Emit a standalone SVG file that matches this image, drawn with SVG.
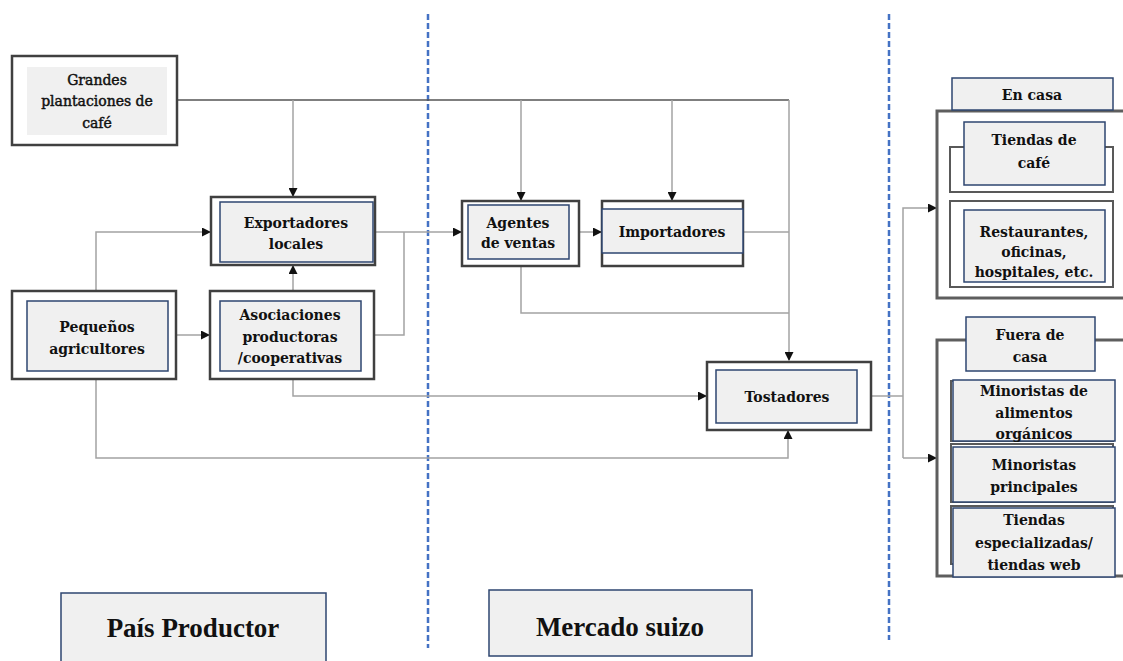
<svg xmlns="http://www.w3.org/2000/svg" width="1123" height="661" viewBox="0 0 1123 661">
<style>
.outer{fill:#fff;stroke:#404040;stroke-width:2.5}
.inner{fill:#f0f0f0;stroke:#2e4670;stroke-width:1.5}
.plain{fill:#f0f0f0;stroke:none}
.cont{fill:none;stroke:#5e5e5e;stroke-width:3}
.back{fill:#fff;stroke:#595959;stroke-width:2}
.t{font-family:"DejaVu Serif","Liberation Serif",serif;font-size:14px;font-weight:bold;fill:#111;text-anchor:middle}
.tn{font-family:"DejaVu Serif","Liberation Serif",serif;font-size:14px;fill:#111;stroke:#111;stroke-width:0.45;text-anchor:middle}
.big{font-family:"Liberation Serif",serif;font-size:27px;font-weight:bold;fill:#111;text-anchor:middle}
.c{fill:none;stroke:#a3a3a3;stroke-width:1.5}
.cd{fill:none;stroke:#555;stroke-width:1.5}
.dash{stroke:#4472c4;stroke-width:2.5;stroke-dasharray:6 3}
</style>
<defs>
<marker id="ah" markerWidth="9" markerHeight="9" refX="8" refY="4.5" orient="auto" markerUnits="userSpaceOnUse">
<path d="M0,0 L9,4.5 L0,9 Z" fill="#111"/>
</marker>
</defs>

<g id="separators">
<line class="dash" x1="428" y1="14" x2="428" y2="648"/>
<line class="dash" x1="889" y1="14" x2="889" y2="640"/>
</g>

<g id="connectors">
<path class="cd" d="M177,100 H789"/>
<path class="c" d="M789,100 V360" marker-end="url(#ah)"/>
<path class="c" d="M293,100 V196" marker-end="url(#ah)"/>
<path class="c" d="M521,100 V200" marker-end="url(#ah)"/>
<path class="c" d="M672,100 V200" marker-end="url(#ah)"/>
<path class="c" d="M96,291 V232 H210" marker-end="url(#ah)"/>
<path class="c" d="M176,335 H209" marker-end="url(#ah)"/>
<path class="c" d="M293,291 V266" marker-end="url(#ah)"/>
<path class="c" d="M375,232 H461" marker-end="url(#ah)"/>
<path class="c" d="M374,335 H404 V232"/>
<path class="c" d="M579,232 H601" marker-end="url(#ah)"/>
<path class="c" d="M743,232 H789"/>
<path class="c" d="M521,266 V313 H789"/>
<path class="c" d="M293,379 V396 H706" marker-end="url(#ah)"/>
<path class="c" d="M96,379 V458 H788 V431" marker-end="url(#ah)"/>
<path class="c" d="M871,396 H903"/>
<path class="c" d="M903,458 V208 H936" marker-end="url(#ah)"/>
<path class="c" d="M903,458 H936" marker-end="url(#ah)"/>
</g>

<g id="grandes">
<rect class="outer" x="12" y="56" width="165" height="89"/>
<rect class="plain" x="27" y="67" width="140" height="68"/>
<text class="tn" x="97" y="85">Grandes</text>
<text class="tn" x="97" y="106">plantaciones de</text>
<text class="tn" x="97" y="128">café</text>
</g>

<g id="exportadores">
<rect class="outer" x="211" y="197" width="164" height="68"/>
<rect class="inner" x="220" y="202" width="153" height="60"/>
<text class="t" x="296" y="228">Exportadores</text>
<text class="t" x="296" y="249">locales</text>
</g>

<g id="pequenos">
<rect class="outer" x="12" y="291" width="164" height="88"/>
<rect class="inner" x="27" y="301" width="141" height="70"/>
<text class="t" x="97" y="332">Pequeños</text>
<text class="t" x="97" y="354">agricultores</text>
</g>

<g id="asociaciones">
<rect class="outer" x="210" y="291" width="164" height="88"/>
<rect class="inner" x="220" y="301" width="141" height="70"/>
<text class="t" x="290" y="320">Asociaciones</text>
<text class="t" x="290" y="342">productoras</text>
<text class="t" x="290" y="363">/cooperativas</text>
</g>

<g id="agentes">
<rect class="outer" x="462" y="201" width="117" height="65"/>
<rect class="inner" x="468" y="205" width="101" height="54"/>
<text class="t" x="518" y="228">Agentes</text>
<text class="t" x="518" y="248">de ventas</text>
</g>

<g id="importadores">
<rect class="outer" x="602" y="201" width="141" height="65"/>
<rect class="inner" x="602" y="209" width="141" height="44"/>
<text class="t" x="672" y="237">Importadores</text>
</g>

<g id="tostadores">
<rect class="outer" x="707" y="362" width="164" height="68"/>
<rect class="inner" x="716" y="370" width="141" height="53"/>
<text class="t" x="787" y="402">Tostadores</text>
</g>

<g id="en-casa">
<rect class="cont" x="937" y="111" width="195" height="187"/>
<rect class="inner" x="952" y="78" width="161" height="32"/>
<text class="t" x="1032" y="100">En casa</text>
</g>

<g id="tiendas-cafe">
<rect class="back" x="950" y="147" width="163" height="45"/>
<rect class="inner" x="964" y="122" width="141" height="63"/>
<text class="t" x="1034" y="145">Tiendas de</text>
<text class="t" x="1034" y="168">café</text>
</g>

<g id="restaurantes">
<rect class="back" x="950" y="201" width="163" height="86"/>
<rect class="inner" x="964" y="210" width="141" height="72"/>
<text class="t" x="1034" y="237">Restaurantes,</text>
<text class="t" x="1034" y="257">oficinas,</text>
<text class="t" x="1034" y="277">hospitales, etc.</text>
</g>

<g id="fuera-de-casa">
<rect class="cont" x="937" y="340" width="195" height="236"/>
<rect class="inner" x="966" y="317" width="129" height="54"/>
<text class="t" x="1030" y="340">Fuera de</text>
<text class="t" x="1030" y="362">casa</text>
</g>

<g id="minoristas-organicos">
<rect class="back" x="951" y="381" width="162" height="60"/>
<rect class="inner" x="953" y="380" width="162" height="61"/>
<text class="t" x="1034" y="396">Minoristas de</text>
<text class="t" x="1034" y="418">alimentos</text>
<text class="t" x="1034" y="439">orgánicos</text>
</g>

<g id="minoristas-principales">
<rect class="back" x="951" y="444" width="162" height="58"/>
<rect class="inner" x="953" y="447" width="162" height="55"/>
<text class="t" x="1034" y="470">Minoristas</text>
<text class="t" x="1034" y="492">principales</text>
</g>

<g id="tiendas-especializadas">
<rect class="back" x="951" y="506" width="162" height="58"/>
<rect class="inner" x="953" y="508" width="162" height="69"/>
<text class="t" x="1034" y="525">Tiendas</text>
<text class="t" x="1034" y="548">especializadas/</text>
<text class="t" x="1034" y="570">tiendas web</text>
</g>

<g id="pais-productor">
<rect class="inner" x="61" y="593" width="265" height="75"/>
<text class="big" x="193" y="637">País Productor</text>
</g>

<g id="mercado-suizo">
<rect class="inner" x="489" y="590" width="263" height="66"/>
<text class="big" x="620" y="636">Mercado suizo</text>
</g>
</svg>
